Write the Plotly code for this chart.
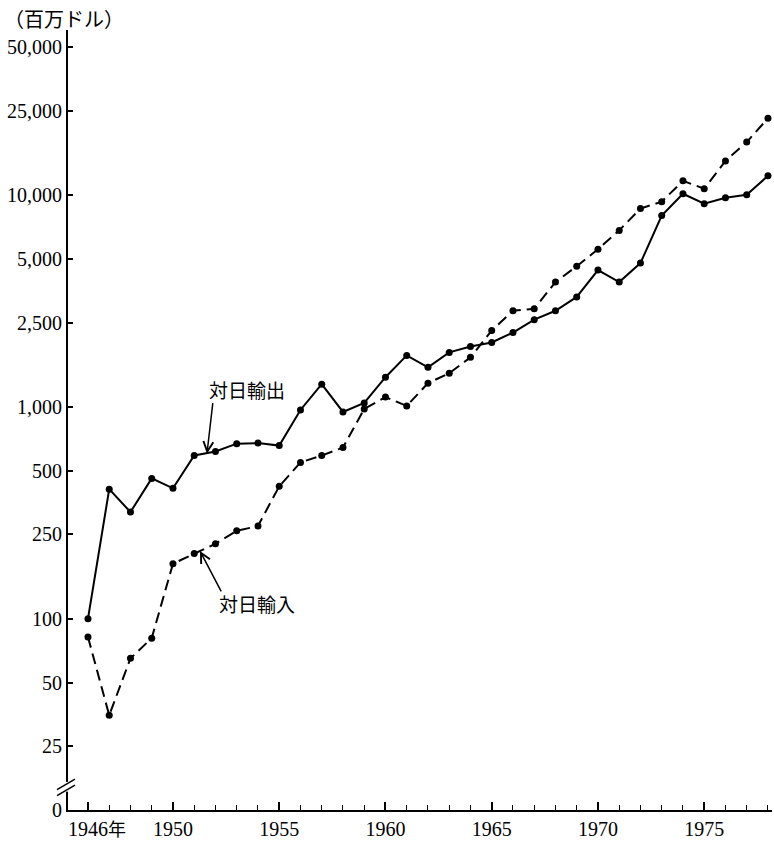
import numpy as np
import plotly.graph_objects as go

# US trade with Japan, 1946-1978 (million dollars)
years = [1946, 1947, 1948, 1949, 1950, 1951, 1952, 1953, 1954, 1955, 1956,
         1957, 1958, 1959, 1960, 1961, 1962, 1963, 1964, 1965, 1966, 1967,
         1968, 1969, 1970, 1971, 1972, 1973, 1974, 1975, 1976, 1977, 1978]

exports_to_japan = [100, 409, 319, 460, 413, 590, 616, 671, 675, 657, 968,
                    1281, 947, 1044, 1382, 1752, 1539, 1810, 1931, 2016, 2245,
                    2583, 2846, 3310, 4430, 3890, 4780, 8020, 10160, 9120,
                    9730, 10050, 12350]

imports_from_japan = [82, 35, 65, 81, 182, 203, 226, 260, 274, 422, 547,
                      590, 643, 979, 1114, 1011, 1295, 1443, 1715, 2295, 2846,
                      2909, 3890, 4620, 5555, 6820, 8650, 9320, 11690, 10730,
                      14510, 17810, 23070]

y_tick_vals = [12.5, 25, 50, 100, 250, 500, 1000, 2500, 5000, 10000, 25000, 50000]
y_tick_text = ["0", "25", "50", "100", "250", "500", "1,000", "2,500", "5,000",
               "10,000", "25,000", "50,000"]

x_tick_vals = [1946, 1950, 1955, 1960, 1965, 1970, 1975]
x_tick_text = ["1946", "1950", "1955", "1960", "1965", "1970", "1975"]

NUM_FONT = "Liberation Serif, DejaVu Serif, serif"
JP_FONT = "Noto Sans CJK JP, sans-serif"

fig = go.Figure()

fig.add_trace(go.Scatter(
    x=years, y=exports_to_japan, mode="lines+markers", name="対日輸出",
    line=dict(color="black", width=2),
    marker=dict(color="black", size=7),
))
fig.add_trace(go.Scatter(
    x=years, y=imports_from_japan, mode="lines+markers", name="対日輸入",
    line=dict(color="black", width=2, dash="11px,6px"),
    marker=dict(color="black", size=7),
))

annotations = [
    # series labels
    dict(x=1953.48, y=np.log10(1214), text="対日輸出", showarrow=False,
         font=dict(family=JP_FONT, size=19, color="black")),
    dict(x=1953.95, y=np.log10(118), text="対日輸入", showarrow=False,
         font=dict(family=JP_FONT, size=19, color="black")),
    # pointer arrows
    dict(x=1951.6, y=np.log10(602), text="", showarrow=True, ax=6, ay=-52,
         arrowhead=5, arrowsize=1.3, arrowwidth=1.5, arrowcolor="black"),
    dict(x=1951.27, y=np.log10(209), text="", showarrow=True, ax=22, ay=42,
         arrowhead=5, arrowsize=1.3, arrowwidth=1.5, arrowcolor="black"),
    # unit label
    dict(xref="paper", yref="paper", x=-0.094, y=1.0, yshift=12,
         xanchor="left", yanchor="middle", text="（百万ドル）", showarrow=False,
         font=dict(family=JP_FONT, size=20, color="black")),
    # year suffix on the first tick label
    dict(x=1946, xref="x", yref="paper", y=0, xanchor="left", yanchor="top",
         xshift=18, yshift=-3, text="年", showarrow=False,
         font=dict(family=JP_FONT, size=18, color="black")),
]

shapes = [
    # gap in the y axis for the scale break
    dict(type="rect", xref="paper", yref="paper", x0=-0.004, x1=0.004,
         y0=0.036, y1=0.0235, fillcolor="white", line=dict(width=0),
         layer="above"),
    # break marks
    dict(type="line", xref="paper", yref="paper", x0=-0.0156, x1=0.0099,
         y0=0.026, y1=0.0395, line=dict(color="black", width=1.5),
         layer="above"),
    dict(type="line", xref="paper", yref="paper", x0=-0.0156, x1=0.0099,
         y0=0.0185, y1=0.032, line=dict(color="black", width=1.5),
         layer="above"),
]

fig.update_layout(
    width=774, height=842,
    margin=dict(l=68, r=2, t=30, b=26),
    paper_bgcolor="white", plot_bgcolor="white",
    showlegend=False,
    annotations=annotations,
    shapes=shapes,
    font=dict(family=NUM_FONT, size=20, color="black"),
)

fig.update_xaxes(
    range=[1945.06, 1978.19],
    tickvals=x_tick_vals, ticktext=x_tick_text,
    ticks="inside", ticklen=8, tickwidth=1.5, tickcolor="black",
    minor=dict(dtick=1, tick0=1946, ticks="inside", ticklen=5,
               tickwidth=1.2, tickcolor="black"),
    showline=True, linecolor="black", linewidth=2,
    showgrid=False, zeroline=False,
    tickfont=dict(family=NUM_FONT, size=20, color="black"),
)

fig.update_yaxes(
    type="log",
    range=[np.log10(12.5), 4.78],
    tickvals=y_tick_vals, ticktext=y_tick_text,
    ticks="inside", ticklen=5, tickwidth=1.5, tickcolor="black",
    showline=True, linecolor="black", linewidth=2,
    showgrid=False, zeroline=False,
    tickfont=dict(family=NUM_FONT, size=20, color="black"),
)

fig.write_html("out.html")
